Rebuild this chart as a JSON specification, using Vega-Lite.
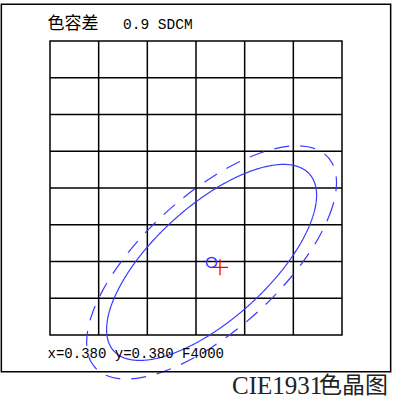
{
  "$schema": "https://vega.github.io/schema/vega-lite/v6.json",
  "width": 292,
  "height": 294,
  "autosize": "none",
  "padding": {"left": 50, "top": 41, "right": 52, "bottom": 67},
  "background": "white",
  "config": {
    "view": {"stroke": "black", "strokeWidth": 1.5},
    "axis": {"disable": true}
  },
  "datasets": {
    "ellipses": [
      {"ring": "solid", "i": 0, "x": 5.478, "y": 3.802},
      {"ring": "solid", "i": 1, "x": 5.404, "y": 3.237},
      {"ring": "solid", "i": 2, "x": 5.188, "y": 2.586},
      {"ring": "solid", "i": 3, "x": 4.846, "y": 1.893},
      {"ring": "solid", "i": 4, "x": 4.399, "y": 1.206},
      {"ring": "solid", "i": 5, "x": 3.878, "y": 0.571},
      {"ring": "solid", "i": 6, "x": 3.320, "y": 0.032},
      {"ring": "solid", "i": 7, "x": 2.762, "y": -0.374},
      {"ring": "solid", "i": 8, "x": 2.241, "y": -0.621},
      {"ring": "solid", "i": 9, "x": 1.794, "y": -0.691},
      {"ring": "solid", "i": 10, "x": 1.452, "y": -0.579},
      {"ring": "solid", "i": 11, "x": 1.236, "y": -0.293},
      {"ring": "solid", "i": 12, "x": 1.163, "y": 0.148},
      {"ring": "solid", "i": 13, "x": 1.236, "y": 0.713},
      {"ring": "solid", "i": 14, "x": 1.452, "y": 1.364},
      {"ring": "solid", "i": 15, "x": 1.794, "y": 2.057},
      {"ring": "solid", "i": 16, "x": 2.241, "y": 2.744},
      {"ring": "solid", "i": 17, "x": 2.762, "y": 3.379},
      {"ring": "solid", "i": 18, "x": 3.320, "y": 3.918},
      {"ring": "solid", "i": 19, "x": 3.878, "y": 4.324},
      {"ring": "solid", "i": 20, "x": 4.399, "y": 4.571},
      {"ring": "solid", "i": 21, "x": 4.846, "y": 4.641},
      {"ring": "solid", "i": 22, "x": 5.188, "y": 4.529},
      {"ring": "solid", "i": 23, "x": 5.404, "y": 4.243},
      {"ring": "dashed", "i": 0, "x": 5.887, "y": 4.149},
      {"ring": "dashed", "i": 1, "x": 5.800, "y": 3.477},
      {"ring": "dashed", "i": 2, "x": 5.543, "y": 2.702},
      {"ring": "dashed", "i": 3, "x": 5.136, "y": 1.878},
      {"ring": "dashed", "i": 4, "x": 4.604, "y": 1.060},
      {"ring": "dashed", "i": 5, "x": 3.985, "y": 0.305},
      {"ring": "dashed", "i": 6, "x": 3.320, "y": -0.337},
      {"ring": "dashed", "i": 7, "x": 2.656, "y": -0.821},
      {"ring": "dashed", "i": 8, "x": 2.036, "y": -1.114},
      {"ring": "dashed", "i": 9, "x": 1.505, "y": -1.197},
      {"ring": "dashed", "i": 10, "x": 1.097, "y": -1.064},
      {"ring": "dashed", "i": 11, "x": 0.840, "y": -0.723},
      {"ring": "dashed", "i": 12, "x": 0.753, "y": -0.199},
      {"ring": "dashed", "i": 13, "x": 0.840, "y": 0.473},
      {"ring": "dashed", "i": 14, "x": 1.097, "y": 1.248},
      {"ring": "dashed", "i": 15, "x": 1.505, "y": 2.072},
      {"ring": "dashed", "i": 16, "x": 2.036, "y": 2.890},
      {"ring": "dashed", "i": 17, "x": 2.656, "y": 3.645},
      {"ring": "dashed", "i": 18, "x": 3.320, "y": 4.287},
      {"ring": "dashed", "i": 19, "x": 3.985, "y": 4.771},
      {"ring": "dashed", "i": 20, "x": 4.604, "y": 5.064},
      {"ring": "dashed", "i": 21, "x": 5.136, "y": 5.147},
      {"ring": "dashed", "i": 22, "x": 5.543, "y": 5.014},
      {"ring": "dashed", "i": 23, "x": 5.800, "y": 4.673}
    ]
  },
  "layer": [
    {
      "data": {"values": [{"gx": 1}, {"gx": 2}, {"gx": 3}, {"gx": 4}, {"gx": 5}]},
      "mark": {"type": "rule", "color": "black", "strokeWidth": 1.5},
      "encoding": {
        "x": {"field": "gx", "type": "quantitative", "scale": {"domain": [0, 6], "nice": false, "zero": false}}
      }
    },
    {
      "data": {"values": [{"gy": 1}, {"gy": 2}, {"gy": 3}, {"gy": 4}, {"gy": 5}, {"gy": 6}, {"gy": 7}]},
      "mark": {"type": "rule", "color": "black", "strokeWidth": 1.5},
      "encoding": {
        "y": {"field": "gy", "type": "quantitative", "scale": {"domain": [0, 8], "nice": false, "zero": false}}
      }
    },
    {
      "data": {"name": "ellipses"},
      "mark": {"type": "line", "interpolate": "cardinal-closed", "color": "#3a3aff", "strokeWidth": 1.2, "clip": false},
      "encoding": {
        "x": {"field": "x", "type": "quantitative"},
        "y": {"field": "y", "type": "quantitative"},
        "order": {"field": "i", "type": "quantitative"},
        "detail": {"field": "ring", "type": "nominal"},
        "strokeDash": {"field": "ring", "type": "nominal", "scale": {"domain": ["solid", "dashed"], "range": [[1, 0], [15, 11]]}, "legend": null}
      }
    },
    {
      "data": {"values": [{"box": "frame"}]},
      "mark": {"type": "rect", "fill": "transparent", "stroke": "black", "strokeWidth": 1.5, "clip": false},
      "encoding": {
        "x": {"datum": -1},
        "x2": {"datum": 7},
        "y": {"datum": -1},
        "y2": {"datum": 9}
      }
    },
    {
      "data": {"values": [{"kind": "center", "x": 3.32, "y": 1.975}]},
      "mark": {"type": "point", "shape": "circle", "filled": false, "stroke": "#3a3aff", "strokeWidth": 1.5, "size": 100, "opacity": 1},
      "encoding": {
        "x": {"field": "x", "type": "quantitative"},
        "y": {"field": "y", "type": "quantitative"}
      }
    },
    {
      "data": {"values": [{"kind": "target", "x": 3.493, "y": 1.842}]},
      "mark": {"type": "point", "shape": "M-1,0L1,0M0,-1L0,1", "filled": false, "stroke": "red", "strokeWidth": 1.3, "size": 256, "opacity": 1},
      "encoding": {
        "x": {"field": "x", "type": "quantitative"},
        "y": {"field": "y", "type": "quantitative"}
      }
    },
    {
      "data": {"values": [{"label": "色容差"}]},
      "mark": {"type": "text", "align": "left", "baseline": "alphabetic", "font": "Noto Sans CJK SC", "fontSize": 17, "color": "black"},
      "encoding": {
        "x": {"datum": -0.05},
        "y": {"datum": 8.33},
        "text": {"field": "label"}
      }
    },
    {
      "data": {"values": [{"label": "0.9 SDCM"}]},
      "mark": {"type": "text", "align": "left", "baseline": "alphabetic", "font": "Liberation Mono", "fontSize": 14.5, "color": "black"},
      "encoding": {
        "x": {"datum": 1.5},
        "y": {"datum": 8.33},
        "text": {"field": "label"}
      }
    },
    {
      "data": {"values": [{"label": "x=0.380 y=0.380 F4000"}]},
      "mark": {"type": "text", "align": "left", "baseline": "alphabetic", "font": "Liberation Mono", "fontSize": 14, "color": "black"},
      "encoding": {
        "x": {"datum": -0.05},
        "y": {"datum": -0.626},
        "text": {"field": "label"}
      }
    },
    {
      "data": {"values": [{"label": "CIE1931"}]},
      "mark": {"type": "text", "align": "left", "baseline": "alphabetic", "font": "Liberation Serif", "fontSize": 25, "color": "#222222"},
      "encoding": {
        "x": {"datum": 3.74},
        "y": {"datum": -1.605},
        "text": {"field": "label"}
      }
    },
    {
      "data": {"values": [{"label": "色晶图"}]},
      "mark": {"type": "text", "align": "right", "baseline": "alphabetic", "font": "Noto Sans CJK SC", "fontSize": 23, "color": "#222222"},
      "encoding": {
        "x": {"datum": 6.945},
        "y": {"datum": -1.58},
        "text": {"field": "label"}
      }
    }
  ]
}
